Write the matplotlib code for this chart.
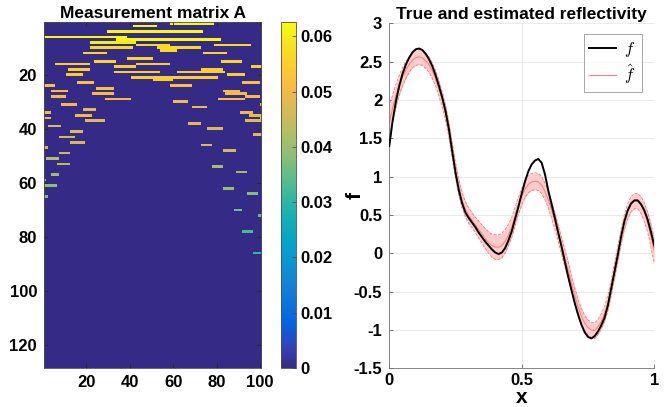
import numpy as np
import matplotlib
matplotlib.use("Agg")
import matplotlib.pyplot as plt
from matplotlib.colors import LinearSegmentedColormap

plt.rcParams['font.family'] = ['Liberation Sans', 'DejaVu Sans']
plt.rcParams['font.weight'] = 'bold'
plt.rcParams['mathtext.fontset'] = 'cm'

# ---- data: measurement matrix A, one entry per segment ----
n_rows, n_cols = 128, 100
seg_row = [1, 2, 4, 6, 7, 8, 9, 9, 10, 10, 11, 12, 12, 14, 15, 15, 16, 16, 17, 17,
           18, 18, 19, 19, 20, 20, 21, 22, 23, 23, 24, 24, 25, 26, 26, 27, 27, 28, 28,
           29, 29, 30, 31, 31, 32, 33, 34, 34, 35, 35, 36, 36, 37, 37, 38, 39, 40, 41,
           42, 43, 45, 46, 47, 48, 49, 51, 53, 54, 56, 57, 59, 61, 62, 64, 65, 70, 72,
           78, 86]
seg_start = [59, 42, 30, 1, 34, 22, 43, 79, 22, 53, 54, 19, 74, 39, 24, 82, 6, 43, 33, 96,
             12, 73, 33, 62, 11, 85, 41, 51, 16, 92, 1, 59, 25, 4, 83, 23, 84, 4, 93,
             29, 81, 60, 9, 100, 69, 19, 1, 91, 15, 95, 1, 100, 20, 93, 67, 3, 76, 13,
             97, 8, 13, 73, 1, 83, 8, 2, 7, 78, 89, 4, 1, 1, 83, 94, 1, 88, 99,
             92, 97]
seg_end = [78, 52, 73, 38, 81, 42, 58, 95, 41, 72, 61, 29, 84, 50, 33, 91, 21, 58, 42, 100,
           21, 82, 53, 83, 18, 92, 80, 59, 23, 99, 5, 68, 32, 11, 90, 32, 93, 10, 99,
           40, 92, 66, 15, 100, 75, 24, 3, 96, 22, 100, 3, 100, 28, 100, 72, 8, 82, 18,
           100, 14, 19, 77, 2, 88, 12, 7, 12, 82, 93, 7, 1, 6, 87, 98, 2, 91, 100,
           96, 100]
seg_value = [0.0626, 0.0626, 0.0626, 0.0626, 0.0626, 0.060, 0.057, 0.057, 0.057, 0.057,
             0.057, 0.056, 0.056, 0.056, 0.056, 0.056, 0.055, 0.055, 0.055, 0.055,
             0.055, 0.055, 0.055, 0.055, 0.055, 0.055, 0.055, 0.055, 0.052, 0.052,
             0.052, 0.052, 0.052, 0.051, 0.051, 0.051, 0.051, 0.051, 0.051, 0.051,
             0.051, 0.050, 0.050, 0.050, 0.050, 0.048, 0.049, 0.049, 0.049, 0.049,
             0.049, 0.049, 0.048, 0.048, 0.048, 0.047, 0.047, 0.047, 0.047, 0.046,
             0.046, 0.046, 0.046, 0.046, 0.045, 0.043, 0.043, 0.042, 0.041, 0.041,
             0.040, 0.039, 0.039, 0.038, 0.038, 0.036, 0.035, 0.033, 0.030]

# ---- data: reflectivity curves (x from 0 to 1 in steps of 0.0125) ----
x = np.linspace(0, 1, 81)
f_true = [1.40, 1.72, 1.98, 2.18, 2.34, 2.46, 2.55, 2.62, 2.66, 2.67,
          2.65, 2.60, 2.53, 2.44, 2.32, 2.18, 2.03, 1.85, 1.62, 1.33,
          1.05, 0.82, 0.65, 0.53, 0.46, 0.40, 0.34, 0.27, 0.21, 0.15,
          0.10, 0.05, 0.01, -0.01, 0.01, 0.07, 0.17, 0.29, 0.45, 0.61,
          0.78, 0.94, 1.07, 1.16, 1.21, 1.23, 1.18, 1.03, 0.82, 0.64,
          0.46, 0.27, 0.09, -0.11, -0.30, -0.48, -0.65, -0.80, -0.93, -1.03,
          -1.09, -1.11, -1.08, -1.02, -0.94, -0.84, -0.68, -0.46, -0.24, -0.02,
          0.22, 0.42, 0.56, 0.65, 0.69, 0.69, 0.64, 0.56, 0.44, 0.28,
          0.10]
f_hat = [1.70, 1.89, 2.05, 2.19, 2.30, 2.39, 2.46, 2.52, 2.55, 2.56,
         2.55, 2.51, 2.46, 2.38, 2.28, 2.15, 2.00, 1.83, 1.61, 1.34,
         1.08, 0.86, 0.69, 0.57, 0.49, 0.43, 0.37, 0.31, 0.25, 0.19,
         0.14, 0.10, 0.08, 0.08, 0.10, 0.16, 0.24, 0.34, 0.48, 0.62,
         0.74, 0.84, 0.90, 0.93, 0.94, 0.93, 0.89, 0.81, 0.70, 0.57,
         0.42, 0.26, 0.10, -0.06, -0.22, -0.39, -0.55, -0.70, -0.82, -0.91,
         -0.97, -1.00, -1.01, -0.96, -0.89, -0.79, -0.65, -0.45, -0.23, -0.01,
         0.22, 0.41, 0.55, 0.64, 0.68, 0.68, 0.63, 0.54, 0.41, 0.23,
         0.03]
f_sd = [0.21, 0.17, 0.15, 0.13, 0.12, 0.11, 0.10, 0.10, 0.10, 0.10,
        0.10, 0.10, 0.10, 0.10, 0.10, 0.10, 0.10, 0.10, 0.10, 0.10,
        0.10, 0.10, 0.10, 0.10, 0.10, 0.10, 0.10, 0.11, 0.12, 0.13,
        0.14, 0.15, 0.16, 0.16, 0.16, 0.15, 0.14, 0.13, 0.12, 0.11,
        0.11, 0.11, 0.11, 0.11, 0.11, 0.11, 0.11, 0.11, 0.11, 0.11,
        0.11, 0.11, 0.11, 0.11, 0.11, 0.10, 0.10, 0.10, 0.10, 0.10,
        0.10, 0.10, 0.10, 0.10, 0.10, 0.10, 0.10, 0.10, 0.10, 0.10,
        0.10, 0.10, 0.10, 0.10, 0.10, 0.10, 0.11, 0.12, 0.13, 0.15,
        0.17]

# parula-like colormap
parula = LinearSegmentedColormap.from_list('parula', [
    (0.2081, 0.1663, 0.5292), (0.1959, 0.2645, 0.7279), (0.0117, 0.3875, 0.8820),
    (0.0498, 0.4586, 0.8641), (0.0793, 0.5200, 0.8312), (0.0343, 0.5966, 0.8199),
    (0.0228, 0.6535, 0.7768), (0.0843, 0.6928, 0.7062), (0.2178, 0.7250, 0.6193),
    (0.3953, 0.7459, 0.5244), (0.5709, 0.7485, 0.4494), (0.7184, 0.7411, 0.3905),
    (0.8507, 0.7299, 0.3360), (0.9739, 0.7314, 0.2666), (0.9880, 0.8066, 0.1794),
    (0.9589, 0.8949, 0.1132), (0.9763, 0.9831, 0.0538)])

A = np.zeros((n_rows, n_cols))
for r, c0, c1, v in zip(seg_row, seg_start, seg_end, seg_value):
    A[r - 1, c0 - 1:c1] = v

fig = plt.figure(figsize=(6.7, 4.07), dpi=100)

# left: matrix
ax1 = fig.add_axes([0.0657, 0.0958, 0.324, 0.850])
im = ax1.imshow(A, cmap=parula, vmin=0, vmax=A.max(), aspect='auto',
                interpolation='nearest', extent=(0.5, n_cols + 0.5, n_rows + 0.5, 0.5))
ax1.set_xticks([20, 40, 60, 80, 100])
ax1.set_yticks([20, 40, 60, 80, 100, 120])
ax1.tick_params(direction='in', length=3, width=0.6, labelsize=12, top=True, right=True,
                color='0.15', pad=5)
for s in ax1.spines.values():
    s.set_linewidth(0.6)
    s.set_color('0.3')
ax1.set_title('Measurement matrix A', fontsize=12.5, fontweight='bold', pad=3)

cax = fig.add_axes([0.4194, 0.0958, 0.0224, 0.850])
cb = fig.colorbar(im, cax=cax, ticks=[0, 0.01, 0.02, 0.03, 0.04, 0.05, 0.06])
cb.ax.set_yticklabels(['0', '0.01', '0.02', '0.03', '0.04', '0.05', '0.06'])
cb.ax.tick_params(direction='in', length=3, width=0.6, labelsize=12, color='0.3')
cb.outline.set_linewidth(0.6)
cb.outline.set_edgecolor('0.3')

# right: reflectivity
ax2 = fig.add_axes([0.581, 0.095, 0.3955, 0.848])
lo = np.array(f_hat) - np.array(f_sd)
hi = np.array(f_hat) + np.array(f_sd)
ax2.fill_between(x, lo, hi, color=(1.0, 0.8, 0.8), lw=0, zorder=1)
ax2.plot(x, lo, '--', color=(1.0, 0.45, 0.45), lw=0.6, zorder=2)
ax2.plot(x, hi, '--', color=(1.0, 0.45, 0.45), lw=0.6, zorder=2)
ax2.plot(x, f_true, color='k', lw=1.4, zorder=3, label='$f$')
ax2.plot(x, f_hat, color=(1.0, 0.5, 0.5), lw=0.8, zorder=2, label=r'$\hat{f}$')
ax2.set_xlim(0, 1)
ax2.set_ylim(-1.5, 3)
ax2.set_xticks([0, 0.5, 1])
ax2.set_xticklabels(['0', '0.5', '1'])
ax2.set_yticks(np.arange(-1.5, 3.01, 0.5))
ax2.set_yticklabels(['-1.5', '-1', '-0.5', '0', '0.5', '1', '1.5', '2', '2.5', '3'])
ax2.tick_params(direction='in', length=3, width=0.6, labelsize=12, color='0.4', pad=5)
ax2.tick_params(axis='x', pad=3)
ax2.grid(True, color='0.9', lw=0.6)
ax2.set_axisbelow(True)
for side in ['top', 'right']:
    ax2.spines[side].set_visible(False)
for side in ['left', 'bottom']:
    ax2.spines[side].set_linewidth(0.6)
    ax2.spines[side].set_color('0.45')
ax2.set_title('True and estimated reflectivity', fontsize=12.5, fontweight='bold', pad=3)
ax2.set_xlabel('x', fontsize=15, fontweight='bold', labelpad=0)
ax2.set_ylabel('f', fontsize=15, fontweight='bold')
ax2.yaxis.set_label_coords(-0.092, 0.5)
leg = ax2.legend(loc='upper right', fontsize=12, frameon=True, fancybox=False,
                 handlelength=1.6, handletextpad=0.5, borderpad=0.35, labelspacing=0.2,
                 bbox_to_anchor=(0.952, 0.968), borderaxespad=0)
leg.get_frame().set_edgecolor('0.5')
leg.get_frame().set_linewidth(0.6)

fig.savefig('out.png', dpi=100)
